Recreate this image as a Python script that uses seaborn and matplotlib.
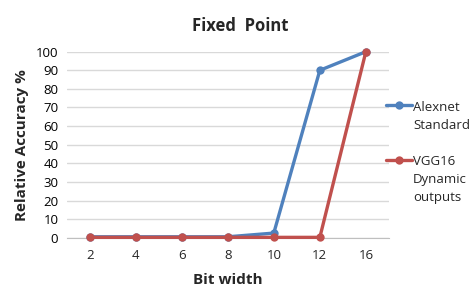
import matplotlib
matplotlib.use("Agg")
import matplotlib.pyplot as plt
import seaborn as sns
import pandas as pd
import numpy as np

# data
bit_width = ["2", "4", "6", "8", "10", "12", "16"]
alexnet = [0.5, 0.5, 0.5, 0.5, 2.5, 90, 100]
vgg16 = [0.2, 0.2, 0.2, 0.2, 0.2, 0.2, 100]
labels = ["Alexnet\nStandard", "VGG16\nDynamic\noutputs"]
colors = ["#4F81BD", "#C0504D"]

df = pd.DataFrame({
    "bits": bit_width * 2,
    "acc": alexnet + vgg16,
    "series": [labels[0]] * 7 + [labels[1]] * 7,
})

sns.set_style("white")
plt.rcParams["font.family"] = ["Open Sans", "DejaVu Sans"]

fig = plt.figure(figsize=(4.76, 3.04), dpi=100)
ax = fig.add_axes([0.140, 0.218, 0.677, 0.612])

sns.lineplot(data=df, x="bits", y="acc", hue="series", palette=colors,
             marker="o", markersize=6, markeredgewidth=0, linewidth=2.4,
             sort=False, ax=ax, clip_on=False, zorder=3)

ax.set_xlim(-0.5, 6.5)
ax.set_ylim(0, 100)
ax.set_yticks(np.arange(0, 101, 10))
ax.yaxis.grid(True, color="#d9d9d9", linewidth=1)
ax.set_axisbelow(True)
for s in ["top", "right", "left"]:
    ax.spines[s].set_visible(False)
ax.spines["bottom"].set_color("#bfbfbf")
ax.tick_params(axis="y", length=0, labelsize=9.5, pad=6, colors="black")
ax.tick_params(axis="x", which="major", length=0, labelsize=9.5, pad=8)
ax.set_xticks(np.arange(-0.5, 7, 1), minor=True)
ax.tick_params(axis="x", which="minor", length=5, color="#bfbfbf", width=1)

ax.set_title("Fixed  Point", fontsize=12, fontweight="bold", pad=15, x=0.54)
ax.set_xlabel("Bit width", fontsize=11, fontweight="bold", labelpad=8)
ax.set_ylabel("Relative Accuracy %", fontsize=11, fontweight="bold", labelpad=5)

leg = ax.legend(loc="upper left", bbox_to_anchor=(0.797, 0.690),
                bbox_transform=fig.transFigure, frameon=False,
                fontsize=9.5, handlelength=2.0, handletextpad=0.05,
                labelspacing=1.75, borderpad=0)
for t in leg.get_texts():
    t.set_linespacing(1.5)
# put the line handle next to the first line of each label
for col in leg._legend_handle_box.get_children():
    for item in col.get_children():
        item.align = "top"

fig.savefig("out.png", dpi=100)
